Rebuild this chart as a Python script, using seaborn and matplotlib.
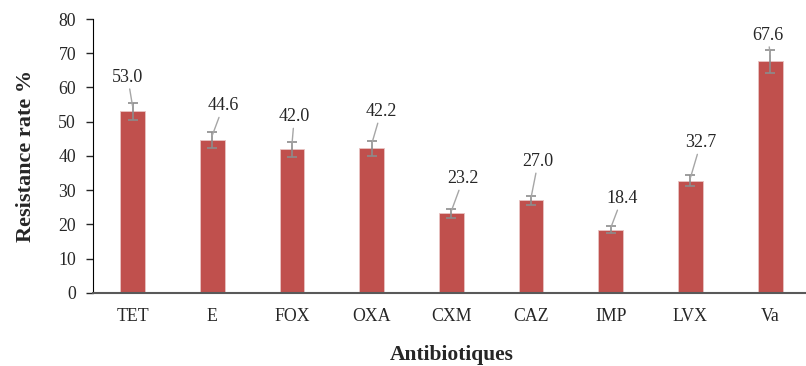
import numpy as np
import matplotlib
matplotlib.use("Agg")
import matplotlib.pyplot as plt
import seaborn as sns
import pandas as pd

# donnees
antibiotiques = ["TET", "E", "FOX", "OXA", "CXM", "CAZ", "IMP", "LVX", "Va"]
taux = [53.0, 44.6, 42.0, 42.2, 23.2, 27.0, 18.4, 32.7, 67.6]
erreurs = [2.6, 2.3, 2.2, 2.1, 1.2, 1.4, 1.0, 1.6, 3.4]
# position des etiquettes (valeur y, decalage x en categories)
etiq_y = [63.0, 54.7, 51.5, 53.0, 33.4, 38.4, 27.6, 43.9, 75.3]
etiq_dx = [-0.06, 0.14, 0.03, 0.12, 0.15, 0.09, 0.14, 0.13, -0.03]

df = pd.DataFrame({"Antibiotiques": antibiotiques, "Taux": taux})

sns.set_style("white")
plt.rcParams["font.family"] = ["Liberation Serif", "DejaVu Serif"]

fig = plt.figure(figsize=(8.06, 3.66), dpi=100)
ax = fig.add_axes([0.115, 0.2, 0.89, 0.748])

sns.barplot(data=df, x="Antibiotiques", y="Taux", color="#C0504D",
            saturation=1, width=0.31, edgecolor="#E8C4C3", linewidth=0.6, ax=ax)

x = np.arange(len(antibiotiques))
ax.errorbar(x, taux, yerr=erreurs, fmt="none", ecolor="#8C8C8C",
            elinewidth=1.2, capsize=3.5, capthick=1.2)

for i in range(len(taux)):
    ax.annotate(f"{taux[i]:.1f}", xy=(x[i], taux[i] + erreurs[i] * 0.6),
                xytext=(x[i] + etiq_dx[i], etiq_y[i]),
                ha="center", va="center", fontsize=13,
                arrowprops=dict(arrowstyle="-", color="#A6A6A6", lw=1,
                                shrinkA=0, shrinkB=0))

ax.set_ylim(0, 80)
ax.set_xlim(-0.5, len(antibiotiques) - 0.5)
ax.set_yticks(range(0, 81, 10))
ax.set_xticks(np.arange(-0.5, len(antibiotiques) - 0.5, 1), minor=True)
ax.tick_params(axis="x", which="major", length=0, labelsize=12.8, pad=11)
ax.tick_params(axis="x", which="minor", length=4, width=1, color="#404040", direction="out")
ax.tick_params(axis="y", length=5, width=1, labelsize=12.8, direction="out", left=True, pad=7)

sns.despine(ax=ax, top=True, right=True)
ax.spines["left"].set_color("black")
ax.spines["bottom"].set_color("#595959")
ax.spines["bottom"].set_linewidth(1.5)

ax.set_xlabel("Antibiotiques", fontsize=15.5, fontweight="bold", labelpad=14)
ax.set_ylabel("Resistance rate %", fontsize=16, fontweight="bold", labelpad=16)

fig.savefig("out.png", dpi=100)
